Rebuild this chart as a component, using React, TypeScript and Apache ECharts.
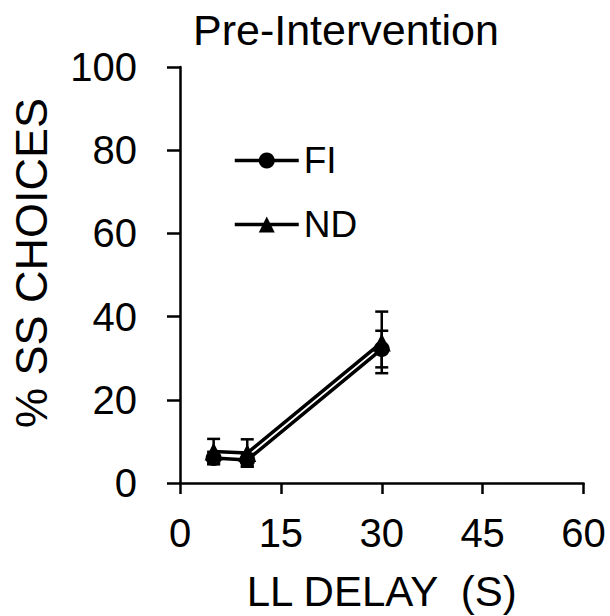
import React, { useEffect, useRef } from "react";
import * as echarts from "echarts";

const delays = [5, 10, 30];
const fiValues = [6.0, 5.5, 32.2];
const fiErrors = [1.5, 1.5, 4.4];
const ndValues = [7.6, 7.2, 33.8];
const ndErrors = [3.0, 3.3, 7.4];
const xTicks = [0, 15, 30, 45, 60];
const yTicks = [0, 20, 40, 60, 80, 100];

const FONT = "'Liberation Sans', Arial, sans-serif";

function errData(vals: number[], errs: number[]) {
  return delays.map((d, i) => [d, vals[i] - errs[i], vals[i] + errs[i]]);
}

function renderErr(params: any, api: any) {
  const x = api.value(0);
  const lo = api.coord([x, api.value(1)]);
  const hi = api.coord([x, api.value(2)]);
  const hw = 6.5;
  const st = { stroke: "#000", lineWidth: 2.5 };
  return {
    type: "group",
    children: [
      { type: "line", shape: { x1: lo[0], y1: lo[1], x2: hi[0], y2: hi[1] }, style: st },
      { type: "line", shape: { x1: hi[0] - hw, y1: hi[1], x2: hi[0] + hw, y2: hi[1] }, style: st },
      { type: "line", shape: { x1: lo[0] - hw, y1: lo[1], x2: lo[0] + hw, y2: lo[1] }, style: st },
    ],
  };
}

export default function App() {
  const ref = useRef<HTMLDivElement>(null);
  useEffect(() => {
    if (!ref.current) return;
    const chart = echarts.init(ref.current, undefined, { renderer: "svg" });
    const axisLineStyle = { color: "#000", width: 2.5 };
    chart.setOption({
      animation: false,
      backgroundColor: "#fff",
      textStyle: { fontFamily: FONT, color: "#000" },
      title: {
        text: "Pre-Intervention",
        left: 193,
        top: 8,
        padding: 0,
        textStyle: { fontFamily: FONT, fontSize: 43, fontWeight: "normal", color: "#000" },
      },
      legend: {
        data: ["FI", "ND"],
        orient: "vertical",
        left: 228,
        top: 137,
        itemWidth: 64,
        itemHeight: 20,
        itemGap: 27,
        lineStyle: { color: "#000", width: 3.5 },
        itemStyle: { color: "#000" },
        textStyle: { fontFamily: FONT, fontSize: 37, color: "#000", lineHeight: 37 },
      },
      grid: {
        left: 180,
        right: 26.5,
        top: 67,
        bottom: 133,
        containLabel: false,
        outerBoundsMode: "none",
      },
      xAxis: {
        type: "value",
        min: xTicks[0],
        max: xTicks[xTicks.length - 1],
        interval: 15,
        name: "LL DELAY  (S)",
        nameLocation: "middle",
        nameGap: 87,
        nameTextStyle: { fontFamily: FONT, fontSize: 42, color: "#000" },
        axisLine: { show: true, lineStyle: axisLineStyle },
        axisTick: { show: true, inside: false, length: 11, lineStyle: axisLineStyle },
        splitLine: { show: false },
        axisLabel: { fontFamily: FONT, fontSize: 40, color: "#000", margin: 30 },
      },
      yAxis: {
        type: "value",
        min: yTicks[0],
        max: yTicks[yTicks.length - 1],
        interval: 20,
        name: "% SS CHOICES",
        nameLocation: "middle",
        nameGap: 126,
        nameRotate: 90,
        nameTextStyle: { fontFamily: FONT, fontSize: 45, color: "#000", padding: [0, 0, 0, 24] },
        axisLine: { show: true, lineStyle: axisLineStyle },
        axisTick: { show: true, inside: false, length: 13, lineStyle: axisLineStyle },
        splitLine: { show: false },
        axisLabel: { fontFamily: FONT, fontSize: 40, color: "#000", margin: 43 },
      },
      series: [
        {
          name: "FI-err",
          type: "custom",
          renderItem: renderErr,
          data: errData(fiValues, fiErrors),
          encode: { x: 0, y: [1, 2] },
          z: 1,
        },
        {
          name: "ND-err",
          type: "custom",
          renderItem: renderErr,
          data: errData(ndValues, ndErrors),
          encode: { x: 0, y: [1, 2] },
          z: 1,
        },
        {
          name: "FI",
          type: "line",
          data: delays.map((d, i) => [d, fiValues[i]]),
          symbol: "circle",
          symbolSize: 16,
          color: "#000",
          itemStyle: { color: "#000" },
          lineStyle: { color: "#000", width: 3.5 },
          z: 3,
        },
        {
          name: "ND",
          type: "line",
          data: delays.map((d, i) => [d, ndValues[i]]),
          symbol: "triangle",
          symbolSize: 18,
          color: "#000",
          itemStyle: { color: "#000" },
          lineStyle: { color: "#000", width: 3.5 },
          z: 3,
        },
      ],
    });
    return () => chart.dispose();
  }, []);
  return (
    <div
      ref={ref}
      style={{ position: "absolute", left: 0, top: 0, width: 610, height: 616, background: "#fff" }}
    />
  );
}
